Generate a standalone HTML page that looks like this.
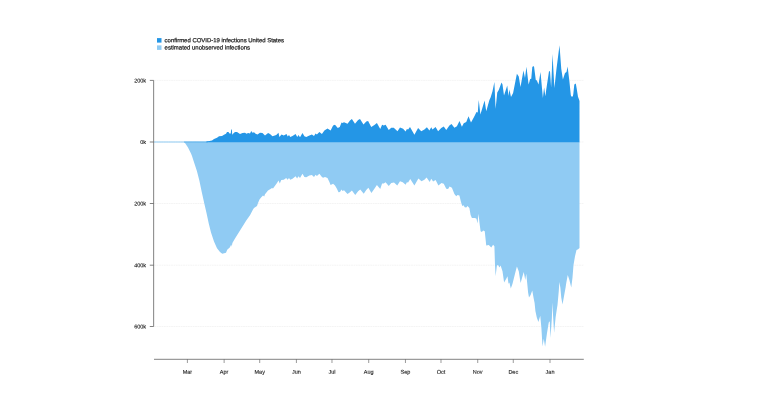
<!DOCTYPE html>
<html><head><meta charset="utf-8"><title>chart</title>
<style>html,body{margin:0;padding:0;background:#fff;}body{width:760px;height:400px;position:relative;overflow:hidden;font-family:"Liberation Sans",sans-serif;}
.t{position:absolute;left:0;top:-6px;line-height:8px;white-space:nowrap;color:#1a1a1a;-webkit-text-stroke:0.22px #1a1a1a;transform-origin:0 0;}
.s{top:-5px;line-height:7px;-webkit-text-stroke-width:0.12px;}</style>
</head><body>
<svg width="760" height="400" viewBox="0 0 760 400" style="position:absolute;left:0;top:0;will-change:transform">
<line x1="154.3" y1="80.40" x2="584" y2="80.40" stroke="#ececec" stroke-width="0.6" stroke-dasharray="1.8,0.6"/>
<line x1="154.3" y1="142.00" x2="584" y2="142.00" stroke="#ececec" stroke-width="0.6" stroke-dasharray="1.8,0.6"/>
<line x1="154.3" y1="203.50" x2="584" y2="203.50" stroke="#ececec" stroke-width="0.6" stroke-dasharray="1.8,0.6"/>
<line x1="154.3" y1="265.20" x2="584" y2="265.20" stroke="#ececec" stroke-width="0.6" stroke-dasharray="1.8,0.6"/>
<line x1="154.3" y1="326.50" x2="584" y2="326.50" stroke="#ececec" stroke-width="0.6" stroke-dasharray="1.8,0.6"/>
<path d="M183.90,142.05 L183.90,142.00 L185.00,143.00 L186.00,144.50 L187.00,146.00 L188.00,147.50 L189.50,150.50 L191.00,153.50 L192.00,156.00 L193.70,161.20 L196.90,171.00 L199.40,180.80 L201.80,192.20 L204.30,203.60 L206.50,213.00 L208.75,223.50 L211.00,232.50 L214.00,241.50 L217.00,248.25 L220.00,252.00 L222.25,253.80 L226.00,252.75 L227.20,249.75 L229.75,247.50 L231.25,244.50 L231.70,246.75 L232.40,243.00 L235.00,238.50 L238.75,232.50 L242.50,226.50 L246.25,220.50 L250.00,215.25 L253.00,209.50 L254.00,208.00 L257.00,206.00 L258.00,203.00 L259.50,199.50 L261.30,197.30 L263.00,195.50 L264.20,196.60 L265.00,194.30 L268.00,190.50 L270.50,189.00 L272.00,188.00 L273.00,188.60 L275.00,185.70 L277.00,183.00 L278.50,180.50 L279.80,183.40 L281.25,180.00 L283.75,179.75 L286.25,177.90 L287.50,179.75 L289.00,178.10 L290.25,179.75 L292.50,178.75 L295.60,176.25 L297.10,178.50 L298.40,176.25 L300.00,178.10 L302.50,173.75 L304.40,176.90 L306.25,177.25 L309.40,175.60 L311.90,175.00 L314.00,176.90 L315.60,174.75 L316.90,176.00 L319.40,173.75 L321.90,176.90 L323.10,177.75 L325.00,176.90 L327.50,178.10 L329.40,181.90 L330.60,185.00 L333.10,183.75 L335.00,185.60 L336.90,188.75 L338.50,192.25 L340.00,191.90 L341.50,189.40 L342.50,191.00 L344.00,190.25 L347.50,194.10 L350.00,192.25 L351.90,190.60 L355.25,195.00 L358.10,191.25 L360.25,189.60 L363.75,193.75 L366.25,190.00 L368.40,187.75 L371.40,192.90 L374.40,188.75 L376.90,185.00 L380.25,189.00 L382.10,183.50 L383.75,183.50 L385.60,182.25 L388.75,186.00 L391.25,183.10 L394.00,182.50 L397.25,185.60 L400.00,181.25 L402.75,182.25 L405.60,184.75 L406.90,182.25 L408.10,182.50 L410.25,179.00 L414.40,185.60 L418.40,178.50 L421.50,181.25 L424.40,179.75 L426.60,177.50 L429.75,181.90 L431.25,178.75 L433.10,181.50 L435.60,180.00 L438.40,185.60 L441.50,183.10 L443.75,183.75 L446.25,188.75 L448.10,189.00 L449.60,186.50 L451.90,187.75 L454.40,194.00 L456.25,196.25 L457.50,195.00 L459.40,195.60 L461.00,201.90 L462.25,206.00 L463.50,205.25 L464.75,207.25 L466.25,207.50 L467.50,206.00 L469.40,208.10 L470.60,215.00 L471.90,218.10 L475.00,218.10 L476.50,218.75 L477.50,223.50 L478.50,213.75 L479.60,223.75 L480.60,231.25 L481.90,231.90 L483.10,230.60 L484.75,231.25 L485.40,237.50 L486.25,245.60 L488.75,245.00 L491.25,247.50 L493.10,244.75 L494.40,246.25 L495.00,265.00 L495.60,276.25 L496.90,265.60 L498.10,265.00 L499.40,267.50 L500.60,265.60 L502.50,271.25 L504.10,282.50 L506.25,278.75 L507.50,276.25 L508.50,283.75 L509.40,282.50 L510.80,288.50 L512.50,283.75 L515.00,273.75 L516.90,266.50 L518.75,271.25 L520.60,283.10 L522.50,276.25 L523.75,271.90 L525.25,280.00 L526.25,273.75 L527.50,286.25 L528.10,292.50 L529.00,297.50 L530.60,295.00 L532.25,290.60 L533.50,297.50 L534.60,303.00 L535.40,311.00 L536.80,317.50 L538.40,322.00 L540.25,315.80 L541.40,328.00 L542.50,346.60 L543.75,338.75 L545.10,346.80 L546.90,333.75 L548.75,322.50 L549.75,321.25 L550.50,338.00 L551.90,317.50 L552.30,302.50 L553.10,316.25 L554.10,332.80 L555.60,317.50 L556.90,308.75 L557.50,305.00 L558.75,291.25 L559.40,281.90 L560.40,288.00 L561.25,297.50 L562.50,304.40 L564.00,296.25 L565.60,287.50 L566.25,283.10 L567.75,275.00 L569.40,280.00 L571.25,287.50 L572.50,277.50 L573.50,265.00 L575.00,256.25 L576.50,250.00 L578.10,249.20 L579.50,248.00 L579.50,142.05 Z" fill="#90cbf3"/>
<line x1="154" y1="142.0" x2="207" y2="142.0" stroke="#90cbf3" stroke-width="1.05"/>
<line x1="184" y1="141.95" x2="208" y2="141.95" stroke="#2496e6" stroke-width="0.5"/>
<path d="M206.00,142.25 L206.00,141.90 L207.00,141.25 L209.50,141.00 L212.00,140.50 L214.00,139.00 L217.00,137.75 L219.00,136.25 L222.00,136.00 L224.00,134.75 L226.00,133.75 L227.00,132.00 L228.50,132.00 L229.50,133.50 L230.80,133.50 L231.10,129.40 L231.80,129.40 L232.25,134.75 L233.50,133.30 L235.00,132.00 L237.00,132.00 L238.50,133.00 L240.00,134.00 L242.50,133.10 L245.00,132.75 L246.50,133.75 L248.10,133.10 L250.00,133.50 L251.25,131.00 L252.50,132.75 L254.00,132.25 L255.60,133.75 L257.50,134.40 L260.00,132.75 L262.50,133.10 L265.00,135.60 L268.10,133.10 L270.00,134.00 L272.50,136.25 L276.25,135.00 L278.50,132.75 L279.40,136.90 L281.50,134.40 L283.75,135.40 L286.50,134.00 L287.75,136.60 L289.00,135.00 L290.25,136.90 L292.50,136.00 L295.60,134.10 L297.25,136.90 L298.50,135.00 L300.00,137.25 L302.50,133.10 L304.40,136.25 L306.25,136.90 L309.40,135.40 L311.90,134.40 L314.00,136.00 L315.60,133.50 L316.90,134.40 L319.40,132.10 L321.90,134.00 L324.40,130.60 L327.50,128.40 L330.60,130.60 L333.10,125.60 L335.00,124.75 L337.75,128.10 L339.75,126.90 L341.50,122.50 L342.50,123.10 L344.00,122.25 L347.50,123.75 L350.00,120.60 L351.90,119.10 L355.00,123.75 L358.10,120.00 L360.00,119.10 L363.50,124.40 L366.25,121.50 L368.10,121.00 L371.25,126.90 L374.40,125.00 L376.90,123.10 L380.25,129.00 L382.10,124.75 L383.75,125.60 L385.60,124.75 L388.75,130.00 L391.25,127.75 L393.75,127.75 L397.50,131.25 L400.00,127.50 L403.10,128.75 L405.60,131.60 L406.90,129.00 L408.10,129.40 L410.00,126.90 L414.40,134.75 L418.10,128.10 L421.25,131.25 L424.40,129.40 L426.90,127.25 L429.40,130.60 L431.25,127.25 L432.50,129.40 L435.60,126.90 L438.10,131.25 L441.25,128.10 L443.75,126.50 L446.25,130.00 L449.40,125.60 L451.50,124.10 L454.40,127.75 L456.90,126.25 L459.50,121.00 L461.90,126.70 L463.75,123.30 L466.25,121.90 L468.50,116.25 L471.00,122.50 L473.75,117.50 L476.50,111.90 L477.75,112.50 L478.75,100.00 L480.40,114.40 L484.60,100.60 L486.25,111.25 L489.40,100.00 L490.60,97.50 L492.50,91.25 L494.40,81.90 L495.60,108.75 L497.25,92.50 L498.75,90.00 L501.50,82.50 L502.50,84.40 L504.00,95.60 L507.25,85.60 L508.50,96.00 L509.40,89.40 L511.00,96.90 L513.10,93.00 L516.90,73.75 L518.75,76.50 L520.50,86.90 L523.45,70.60 L525.00,78.00 L526.45,66.70 L528.60,84.40 L530.20,79.00 L531.25,78.75 L532.30,67.00 L533.40,66.00 L534.10,67.00 L535.80,80.00 L536.90,80.60 L538.50,84.40 L540.50,72.00 L542.90,98.00 L544.10,87.60 L545.40,96.20 L546.25,89.40 L549.00,71.25 L550.00,71.25 L550.60,80.00 L551.10,87.50 L551.70,75.00 L552.50,54.00 L554.40,88.00 L556.50,68.75 L559.50,45.30 L561.25,68.75 L562.90,79.40 L565.00,73.10 L566.50,71.90 L567.60,66.50 L569.40,81.25 L570.80,95.00 L571.30,96.50 L572.80,96.50 L573.30,94.00 L574.30,84.60 L575.80,83.50 L576.60,88.00 L578.00,96.75 L579.10,99.75 L579.50,101.00 L579.50,142.25 Z" fill="#2496e6"/>
<path d="M149.8,80.4 H153.65 V326.5 H149.8" fill="none" stroke="#585858" stroke-width="0.75"/>
<line x1="149.8" y1="142.00" x2="153.65" y2="142.00" stroke="#585858" stroke-width="0.75"/>
<line x1="149.8" y1="203.50" x2="153.65" y2="203.50" stroke="#585858" stroke-width="0.75"/>
<line x1="149.8" y1="265.20" x2="153.65" y2="265.20" stroke="#585858" stroke-width="0.75"/>
<line x1="154" y1="359.3" x2="583.8" y2="359.3" stroke="#585858" stroke-width="0.75"/>
<line x1="187.40" y1="359.3" x2="187.40" y2="363.0" stroke="#585858" stroke-width="0.6"/>
<line x1="224.13" y1="359.3" x2="224.13" y2="363.0" stroke="#585858" stroke-width="0.6"/>
<line x1="259.69" y1="359.3" x2="259.69" y2="363.0" stroke="#585858" stroke-width="0.6"/>
<line x1="296.42" y1="359.3" x2="296.42" y2="363.0" stroke="#585858" stroke-width="0.6"/>
<line x1="331.97" y1="359.3" x2="331.97" y2="363.0" stroke="#585858" stroke-width="0.6"/>
<line x1="368.71" y1="359.3" x2="368.71" y2="363.0" stroke="#585858" stroke-width="0.6"/>
<line x1="405.44" y1="359.3" x2="405.44" y2="363.0" stroke="#585858" stroke-width="0.6"/>
<line x1="440.99" y1="359.3" x2="440.99" y2="363.0" stroke="#585858" stroke-width="0.6"/>
<line x1="477.73" y1="359.3" x2="477.73" y2="363.0" stroke="#585858" stroke-width="0.6"/>
<line x1="513.27" y1="359.3" x2="513.27" y2="363.0" stroke="#585858" stroke-width="0.6"/>
<line x1="550.01" y1="359.3" x2="550.01" y2="363.0" stroke="#585858" stroke-width="0.6"/>
<rect x="157" y="38.1" width="4.5" height="4.5" fill="#2496e6"/>
<rect x="157" y="45.4" width="4.5" height="4.5" fill="#90cbf3"/>
</svg>
<div class="t s" style="font-size:5.5px;transform:translate(146.10px,82.40px) translate(-100%,0) rotate(0.03deg)">200k</div>
<div class="t s" style="font-size:5.5px;transform:translate(146.10px,144.00px) translate(-100%,0) rotate(0.03deg)">0k</div>
<div class="t s" style="font-size:5.5px;transform:translate(146.10px,205.50px) translate(-100%,0) rotate(0.03deg)">200k</div>
<div class="t s" style="font-size:5.5px;transform:translate(146.10px,267.20px) translate(-100%,0) rotate(0.03deg)">400k</div>
<div class="t s" style="font-size:5.5px;transform:translate(146.10px,328.50px) translate(-100%,0) rotate(0.03deg)">600k</div>
<div class="t s" style="font-size:5.5px;transform:translate(187.40px,373.70px) translate(-50%,0) rotate(0.03deg)">Mar</div>
<div class="t s" style="font-size:5.5px;transform:translate(224.13px,373.70px) translate(-50%,0) rotate(0.03deg)">Apr</div>
<div class="t s" style="font-size:5.5px;transform:translate(259.69px,373.70px) translate(-50%,0) rotate(0.03deg)">May</div>
<div class="t s" style="font-size:5.5px;transform:translate(296.42px,373.70px) translate(-50%,0) rotate(0.03deg)">Jun</div>
<div class="t s" style="font-size:5.5px;transform:translate(331.97px,373.70px) translate(-50%,0) rotate(0.03deg)">Jul</div>
<div class="t s" style="font-size:5.5px;transform:translate(368.71px,373.70px) translate(-50%,0) rotate(0.03deg)">Aug</div>
<div class="t s" style="font-size:5.5px;transform:translate(405.44px,373.70px) translate(-50%,0) rotate(0.03deg)">Sep</div>
<div class="t s" style="font-size:5.5px;transform:translate(440.99px,373.70px) translate(-50%,0) rotate(0.03deg)">Oct</div>
<div class="t s" style="font-size:5.5px;transform:translate(477.73px,373.70px) translate(-50%,0) rotate(0.03deg)">Nov</div>
<div class="t s" style="font-size:5.5px;transform:translate(513.27px,373.70px) translate(-50%,0) rotate(0.03deg)">Dec</div>
<div class="t s" style="font-size:5.5px;transform:translate(550.01px,373.70px) translate(-50%,0) rotate(0.03deg)">Jan</div>
<div class="t" style="font-size:5.96px;transform:translate(164.60px,42.30px) translate(0,0) rotate(0.03deg)">confirmed COVID-19 infections United States</div>
<div class="t" style="font-size:5.96px;transform:translate(164.60px,49.55px) translate(0,0) rotate(0.03deg)">estimated unobserved infections</div>
</body></html>
